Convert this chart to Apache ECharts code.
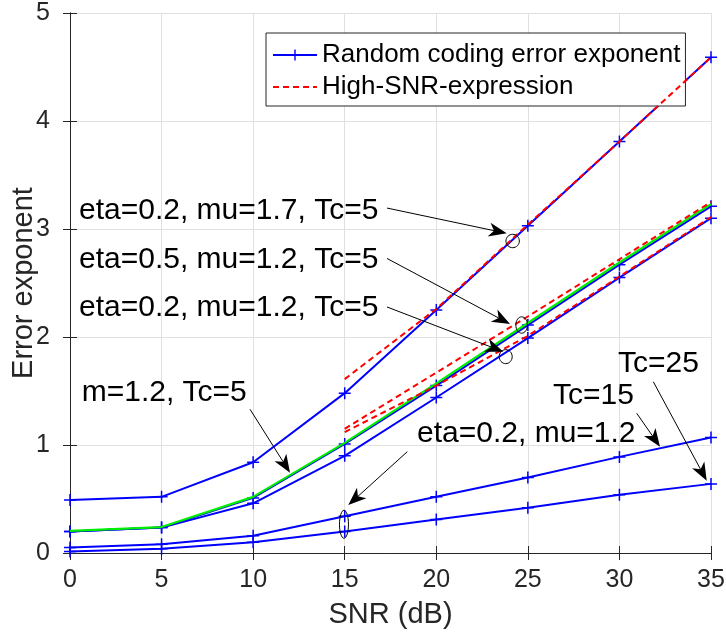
<!DOCTYPE html>
<html>
<head>
<meta charset="utf-8">
<script src="https://cdn.jsdelivr.net/npm/echarts@6/dist/echarts.min.js"></script>
<style>
  html, body { margin: 0; padding: 0; background: #fff; }
  #chart { width: 726px; height: 637px; }
</style>
</head>
<body>
<div id="chart"></div>
<script>
// SNR grid (dB) of the simulated random coding exponents
const snr = [0, 5, 10, 15, 20, 25, 30, 35];
// SNR grid of the high-SNR closed-form expression
const snrHigh = [15, 20, 25, 30, 35];

// Random coding error exponent, Tc = 5
const eeEta02Mu17 = [0.49, 0.52, 0.84, 1.48, 2.25, 3.03, 3.81, 4.59];
const eeEta05Mu12 = [0.20, 0.235, 0.51, 1.01, 1.55, 2.11, 2.67, 3.21];
const eeEta02Mu12 = [0.20, 0.235, 0.46, 0.90, 1.44, 1.99, 2.55, 3.10];
// Nakagami-m reference, m = 1.2, Tc = 5
const eeM12 = [0.205, 0.24, 0.52, 1.02, 1.57, 2.13, 2.69, 3.23];
// eta = 0.2, mu = 1.2 with longer coherence time
const eeTc15 = [0.05, 0.08, 0.16, 0.34, 0.52, 0.70, 0.89, 1.07];
const eeTc25 = [0.015, 0.04, 0.10, 0.20, 0.31, 0.42, 0.54, 0.64];

// High-SNR expression
const hsEta02Mu17 = [1.61, 2.26, 3.04, 3.81, 4.59];
const hsEta05Mu12 = [1.15, 1.67, 2.19, 2.72, 3.25];
const hsEta02Mu12 = [1.12, 1.55, 2.01, 2.56, 3.11];

// Axis ticks
const xTicks = [0, 5, 10, 15, 20, 25, 30, 35];
const yTicks = [0, 1, 2, 3, 4, 5];

// Annotations in data coordinates
const notes = [
  { text: 'eta=0.2, mu=1.7, Tc=5', at: [0.49, 3.173] },
  { text: 'eta=0.5, mu=1.2, Tc=5', at: [0.49, 2.72] },
  { text: 'eta=0.2, mu=1.2, Tc=5', at: [0.49, 2.273] },
  { text: 'm=1.2, Tc=5', at: [0.64, 1.486] },
  { text: 'eta=0.2, mu=1.2', at: [18.95, 1.102] },
  { text: 'Tc=15', at: [26.37, 1.454] },
  { text: 'Tc=25', at: [29.92, 1.75] }
];
const arrows = [
  { from: [17.31, 3.194], to: [23.845, 2.960] },
  { from: [17.31, 2.727], to: [24.025, 2.120] },
  { from: [17.31, 2.278], to: [23.66, 1.864] },
  { from: [9.829, 1.331], to: [12.013, 0.744] },
  { from: [18.418, 0.938], to: [15.196, 0.444] },
  { from: [30.943, 1.294], to: [32.216, 0.984] },
  { from: [31.85, 1.586], to: [34.766, 0.669] }
];
const rings = [
  { at: [24.17, 2.889], rx: 6.7, ry: 6.7 },
  { at: [24.66, 2.111], rx: 5.8, ry: 8.2 },
  { at: [23.79, 1.818], rx: 6.5, ry: 7 },
  { at: [14.96, 0.266], rx: 4.5, ry: 14 }
];

const FONT = '"Liberation Sans", Arial, Helvetica, sans-serif';
const AXIS_COLOR = '#262626';
const BLUE = '#0000ff';
const RED = '#ff0000';
const GREEN = '#00ee00';
const PLUS = 'path://M5.25,0h1.5v12h-1.5z M0,5.25h12v1.5h-12z';
const NAME_RC = 'Random coding error exponent';
const NAME_HS = 'High-SNR-expression';

const pairs = (xs, ys) => xs.map((x, i) => [x, ys[i]]);

function blueSeries(vals) {
  return {
    name: NAME_RC, type: 'line', data: pairs(snr, vals),
    symbol: PLUS, symbolSize: 12, showAllSymbol: true,
    lineStyle: { color: BLUE, width: 2 },
    itemStyle: { color: BLUE, borderWidth: 0 },
    emphasis: { disabled: true }, animation: false, z: 3
  };
}
function dashedSeries(vals) {
  return {
    name: NAME_HS, type: 'line', data: pairs(snrHigh, vals),
    symbol: 'none',
    lineStyle: { color: RED, width: 2, type: [6, 4] },
    itemStyle: { color: RED, opacity: 0 },
    emphasis: { disabled: true }, animation: false, z: 5
  };
}

const chart = echarts.init(document.getElementById('chart'), null, { renderer: 'canvas' });

const tickLabel = { fontSize: 25, color: AXIS_COLOR, fontFamily: FONT };
const axisName = { fontSize: 29, color: AXIS_COLOR, fontFamily: FONT };

chart.setOption({
  animation: false,
  backgroundColor: '#fff',
  textStyle: { fontFamily: FONT },
  grid: { left: 70, right: 15, top: 13, bottom: 84, containLabel: false, outerBoundsMode: 'none' },
  legend: {
    orient: 'vertical', left: 266, top: 33,
    padding: [9, 5, 6, 6], itemGap: 6,
    itemWidth: 44, itemHeight: 14,
    borderColor: AXIS_COLOR, borderWidth: 1, backgroundColor: '#fff',
    textStyle: { fontSize: 26, color: '#000', fontFamily: FONT },
    selectedMode: false,
    data: [{ name: NAME_RC }, { name: NAME_HS }]
  },
  xAxis: [{
    type: 'value', position: 'bottom', min: xTicks[0], max: xTicks[xTicks.length - 1], interval: xTicks[1] - xTicks[0],
    axisLine: { lineStyle: { color: AXIS_COLOR, width: 1 } },
    axisTick: { inside: true, length: 7, lineStyle: { color: AXIS_COLOR } },
    axisLabel: Object.assign({ margin: 15 }, tickLabel),
    splitLine: { show: true, lineStyle: { color: '#e0e0e0', width: 1 } },
    name: 'SNR (dB)', nameLocation: 'middle', nameGap: 47, nameMoveOverlap: false,
    nameTextStyle: axisName
  }, {
    type: 'value', position: 'top', min: xTicks[0], max: xTicks[xTicks.length - 1], interval: xTicks[1] - xTicks[0],
    axisLine: { lineStyle: { color: AXIS_COLOR, width: 1 } },
    axisTick: { inside: true, length: 7, lineStyle: { color: AXIS_COLOR } },
    axisLabel: { show: false }, splitLine: { show: false }
  }],
  yAxis: [{
    type: 'value', position: 'left', min: yTicks[0], max: yTicks[yTicks.length - 1], interval: yTicks[1] - yTicks[0],
    axisLine: { show: true, lineStyle: { color: AXIS_COLOR, width: 1 } },
    axisTick: { show: true, inside: true, length: 7, lineStyle: { color: AXIS_COLOR } },
    axisLabel: Object.assign({ margin: 20 }, tickLabel),
    splitLine: { show: true, lineStyle: { color: '#e0e0e0', width: 1 } },
    name: 'Error exponent', nameLocation: 'middle', nameGap: 32, nameRotate: 90, nameMoveOverlap: false,
    nameTextStyle: axisName
  }, {
    type: 'value', position: 'right', min: yTicks[0], max: yTicks[yTicks.length - 1], interval: yTicks[1] - yTicks[0],
    axisLine: { show: true, lineStyle: { color: AXIS_COLOR, width: 1 } },
    axisTick: { show: true, inside: true, length: 7, lineStyle: { color: AXIS_COLOR } },
    axisLabel: { show: false }, splitLine: { show: false }
  }],
  series: [
    blueSeries(eeEta02Mu17),
    blueSeries(eeEta05Mu12),
    blueSeries(eeEta02Mu12),
    blueSeries(eeTc15),
    blueSeries(eeTc25),
    {
      name: 'm=1.2, Tc=5', type: 'line', data: pairs(snr, eeM12),
      symbol: 'none', lineStyle: { color: GREEN, width: 2.2 },
      itemStyle: { color: GREEN }, emphasis: { disabled: true }, animation: false, z: 4
    },
    dashedSeries(hsEta02Mu17),
    dashedSeries(hsEta05Mu12),
    dashedSeries(hsEta02Mu12)
  ]
});

// Callouts: labels, arrows with filled heads, and marker rings
function buildAnnotations() {
  const px = (p) => chart.convertToPixel({ gridIndex: 0 }, p);
  const els = [];
  notes.forEach((n) => {
    const p = px(n.at);
    els.push({
      type: 'text', x: p[0], y: p[1], z: 100,
      style: { text: n.text, fontSize: 30, fontFamily: FONT, fill: '#000', align: 'left', verticalAlign: 'middle' }
    });
  });
  arrows.forEach((a) => {
    const s = px(a.from), t = px(a.to);
    const dx = t[0] - s[0], dy = t[1] - s[1];
    const len = Math.hypot(dx, dy);
    const ux = dx / len, uy = dy / len;
    const L = 18, W = 7, notch = 0.72;
    const bx = t[0] - ux * L, by = t[1] - uy * L;
    const nx = t[0] - ux * L * notch, ny = t[1] - uy * L * notch;
    els.push({
      type: 'line', z: 100,
      shape: { x1: s[0], y1: s[1], x2: nx, y2: ny },
      style: { stroke: '#000', lineWidth: 1 }
    });
    els.push({
      type: 'polygon', z: 100,
      shape: { points: [
        [t[0], t[1]],
        [bx - uy * W, by + ux * W],
        [nx, ny],
        [bx + uy * W, by - ux * W]
      ] },
      style: { fill: '#000' }
    });
  });
  rings.forEach((r) => {
    const c = px(r.at);
    els.push({
      type: 'ellipse', z: 100,
      shape: { cx: c[0], cy: c[1], rx: r.rx, ry: r.ry },
      style: { fill: 'none', stroke: '#000', lineWidth: 1 }
    });
  });
  chart.setOption({ graphic: { elements: els } });
}
buildAnnotations();
</script>
</body>
</html>
